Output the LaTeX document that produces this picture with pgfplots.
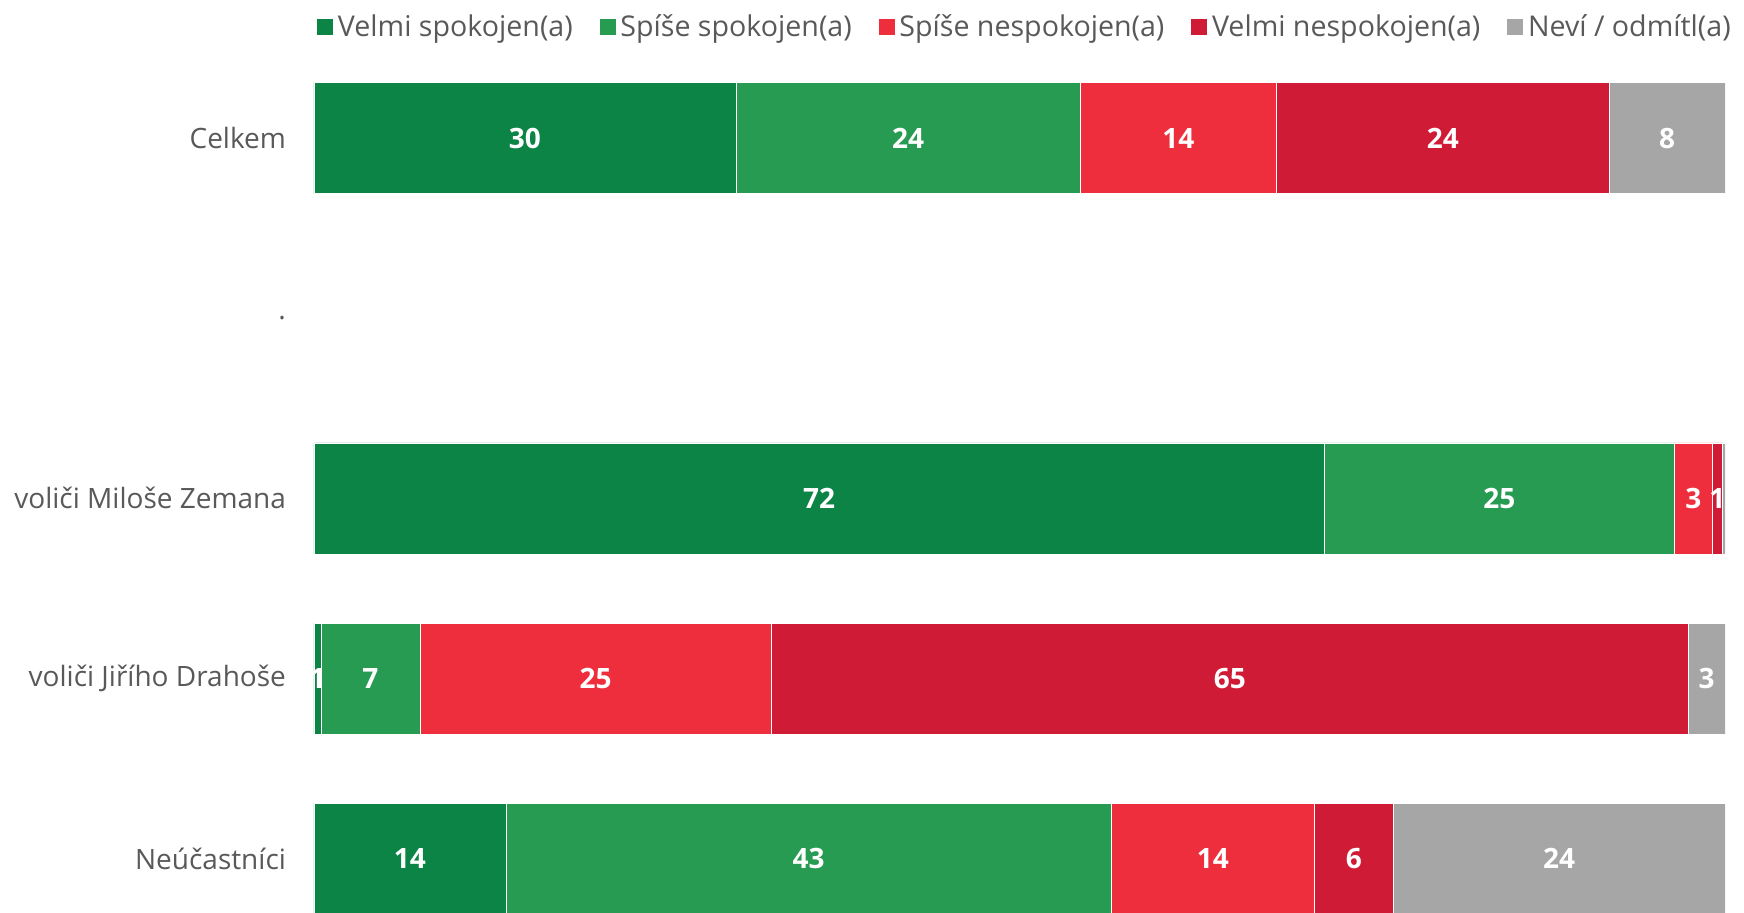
\documentclass[border=0pt]{standalone}
\usepackage{pgfplots}
\pgfplotsset{compat=1.18}
\usepackage{pgfplotstable}
\usepackage{fontspec}
\setmainfont{Open Sans}
\definecolor{c1}{HTML}{0C8446}
\definecolor{c2}{HTML}{269B51}
\definecolor{c3}{HTML}{EE2E3D}
\definecolor{c4}{HTML}{CF1B35}
\definecolor{c5}{HTML}{A6A6A6}
\definecolor{lab}{HTML}{595959}
\pgfplotstableread{
y v l
4 29.9 30
2 71.6 72
1 0.5 1
0 13.6 14
}\tA
\pgfplotstableread{
y v l
4 24.4 24
2 24.8 25
1 7.0 7
0 42.9 43
}\tB
\pgfplotstableread{
y v l
4 13.9 14
2 2.7 3
1 24.9 25
0 14.4 14
}\tC
\pgfplotstableread{
y v l
4 23.6 24
2 0.7 1
1 65.0 65
0 5.6 6
}\tD
\pgfplotstableread{
y v l
4 8.2 8
2 0.2 {}
1 2.6 3
0 23.5 24
}\tE
\pgfplotsset{mylegend/.style={legend image code/.code={\fill[##1] (0pt,-4.25pt) rectangle (8.5pt,4.25pt);}}}
\begin{document}
\begin{tikzpicture}
\begin{axis}[
  scale only axis,
  width=705.5pt, height=415pt,
  xbar stacked, bar width=55.5pt,
  xmin=0, xmax=100, ymin=-0.296, ymax=4.311,
  xtick=\empty,
  ytick={0,1,2,3,4},
  yticklabels={Neúčastníci, voliči Jiřího Drahoše, voliči Miloše Zemana, ., Celkem},
  yticklabel style={font=\fontsize{14}{16}\selectfont, text=lab, xshift=-10.5pt},
  major tick length=0pt,
  axis line style={draw=none},
  point meta=explicit symbolic,
  nodes near coords,
  every node near coord/.append style={font=\bfseries\fontsize{14}{16}\selectfont, text=white, anchor=center},
  legend columns=5,
  legend style={at={(0,1)}, anchor=west, yshift=27.5pt, xshift=-2pt, draw=none, fill=none,
    font=\fontsize{14.3}{16}\selectfont, text=lab,
    /tikz/every even column/.append style={column sep=11pt}},
  legend cell align=left,
]
\addplot[fill=c1, draw=white, line width=0.3pt, mylegend] table[x=v, y=y, meta=l] {\tA};
\addplot[fill=c2, draw=white, line width=0.3pt, mylegend] table[x=v, y=y, meta=l] {\tB};
\addplot[fill=c3, draw=white, line width=0.3pt, mylegend] table[x=v, y=y, meta=l] {\tC};
\addplot[fill=c4, draw=white, line width=0.3pt, mylegend] table[x=v, y=y, meta=l] {\tD};
\addplot[fill=c5, draw=white, line width=0.3pt, mylegend] table[x=v, y=y, meta=l] {\tE};
\legend{Velmi spokojen(a), Spíše spokojen(a), Spíše nespokojen(a), Velmi nespokojen(a), Neví / odmítl(a)}
\end{axis}
\pgfresetboundingbox
\path ([xshift=-157pt]current axis.south west) rectangle ([xshift=9.5pt,yshift=41pt]current axis.north east);
\end{tikzpicture}
\end{document}
